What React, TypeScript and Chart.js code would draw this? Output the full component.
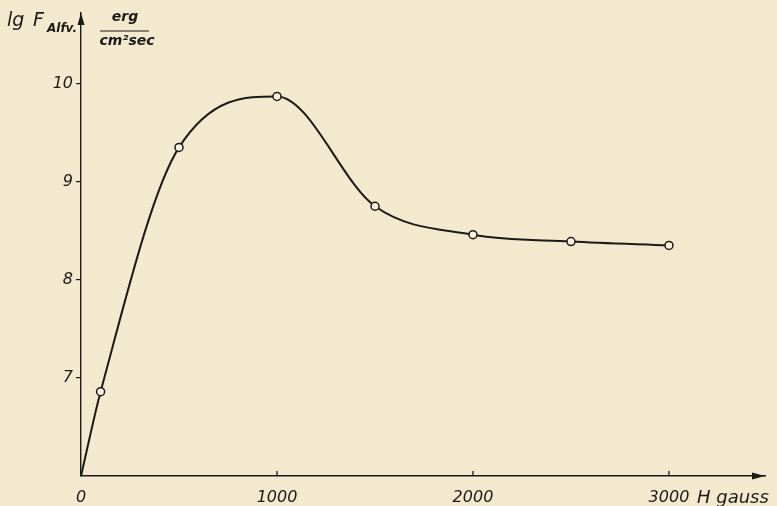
import { useEffect, useRef } from "react";
import { Chart, registerables } from "chart.js";
Chart.register(...registerables);

const fieldGauss = [0, 100, 500, 1000, 1500, 2000, 2500, 3000];
const lgFlux = [6.0, 6.86, 9.35, 9.87, 8.75, 8.46, 8.39, 8.35];
const markerRadius = [0, 4, 4, 4, 4, 4, 4, 4];
const xTickValues = [0, 1000, 2000, 3000];
const yTickValues = [7, 8, 9, 10];

const INK = "#1c1a17";
const PAPER = "#f3e9cf";
const FAMILY = '"DejaVu Sans", sans-serif';

const decorPlugin = {
  id: "decor",
  afterDraw(chart: any) {
    const ctx = chart.ctx;
    const { left, right, top, bottom } = chart.chartArea;
    const xs = chart.scales.x;
    ctx.save();
    ctx.fillStyle = INK;
    ctx.strokeStyle = INK;
    ctx.lineWidth = 1.3;
    // y arrow
    ctx.beginPath();
    ctx.moveTo(left, top);
    ctx.lineTo(left - 3.5, top + 12);
    ctx.lineTo(left + 3.5, top + 12);
    ctx.closePath();
    ctx.fill();
    // x arrow
    ctx.beginPath();
    ctx.moveTo(right, bottom);
    ctx.lineTo(right - 13, bottom - 3.5);
    ctx.lineTo(right - 13, bottom + 3.5);
    ctx.closePath();
    ctx.fill();
    // x tick marks (upward)
    xTickValues.forEach((v) => {
      if (v === 0) return;
      const px = xs.getPixelForValue(v);
      ctx.beginPath();
      ctx.moveTo(px, bottom);
      ctx.lineTo(px, bottom - 5);
      ctx.stroke();
    });
    // axis titles
    ctx.textBaseline = "alphabetic";
    ctx.textAlign = "left";
    ctx.font = `italic 19px ${FAMILY}`;
    ctx.fillText("lg", 7, 26);
    ctx.fillText("F", 33, 26);
    ctx.font = `italic bold 12px ${FAMILY}`;
    ctx.fillText("Alfv.", 47, 32);
    ctx.font = `italic bold 14px ${FAMILY}`;
    ctx.textAlign = "center";
    ctx.fillText("erg", 125, 21);
    ctx.fillText("cm\u00B2sec", 127, 45);
    ctx.lineWidth = 1.2;
    ctx.beginPath();
    ctx.moveTo(100, 31);
    ctx.lineTo(149, 31);
    ctx.stroke();
    ctx.textAlign = "left";
    ctx.font = `italic 18px ${FAMILY}`;
    ctx.fillText("H gauss", 697, 503);
    ctx.restore();
  },
};

export default function App() {
  const ref = useRef<HTMLCanvasElement>(null);
  useEffect(() => {
    if (!ref.current) return;
    const chart = new Chart(ref.current, {
      type: "line",
      data: {
        datasets: [
          {
            data: fieldGauss.map((x, i) => ({ x, y: lgFlux[i] })),
            borderColor: INK,
            borderWidth: 2,
            cubicInterpolationMode: "monotone",
            pointRadius: markerRadius,
            pointBackgroundColor: "#fbf5e2",
            pointBorderColor: INK,
            pointBorderWidth: 1.5,
            fill: false,
          },
        ],
      },
      options: {
        responsive: false,
        animation: false,
        events: [],
        layout: { padding: { top: 13, right: 12, left: 0, bottom: 0 } },
        plugins: { legend: { display: false }, tooltip: { enabled: false } },
        scales: {
          x: {
            type: "linear",
            min: 0,
            max: 3490,
            afterBuildTicks: (s: any) => {
              s.ticks = xTickValues.map((v) => ({ value: v }));
            },
            afterFit: (s: any) => {
              s.height = 30;
            },
            border: { display: true, color: INK, width: 1.4 },
            grid: { display: false, drawTicks: false },
            ticks: {
              color: INK,
              padding: 12,
              maxRotation: 0,
              autoSkip: false,
              font: { family: FAMILY, size: 16, style: "italic" },
              callback: (v: any) => String(v),
            },
          },
          y: {
            type: "linear",
            min: 6,
            max: 10.72,
            afterBuildTicks: (s: any) => {
              s.ticks = yTickValues.map((v) => ({ value: v }));
            },
            afterFit: (s: any) => {
              s.width = 81;
            },
            border: { display: true, color: INK, width: 1.4 },
            grid: {
              display: true,
              drawOnChartArea: false,
              drawTicks: true,
              tickLength: 5,
              color: INK,
              lineWidth: 1.2,
            },
            ticks: {
              color: INK,
              padding: 3,
              font: { family: FAMILY, size: 16, style: "italic" },
              callback: (v: any) => String(v),
            },
          },
        },
      },
      plugins: [decorPlugin],
    });
    return () => chart.destroy();
  }, []);
  return (
    <div
      style={{
        position: "fixed",
        left: 0,
        top: 0,
        width: 777,
        height: 506,
        background: PAPER,
      }}
    >
      <canvas ref={ref} width={777} height={506} />
    </div>
  );
}
